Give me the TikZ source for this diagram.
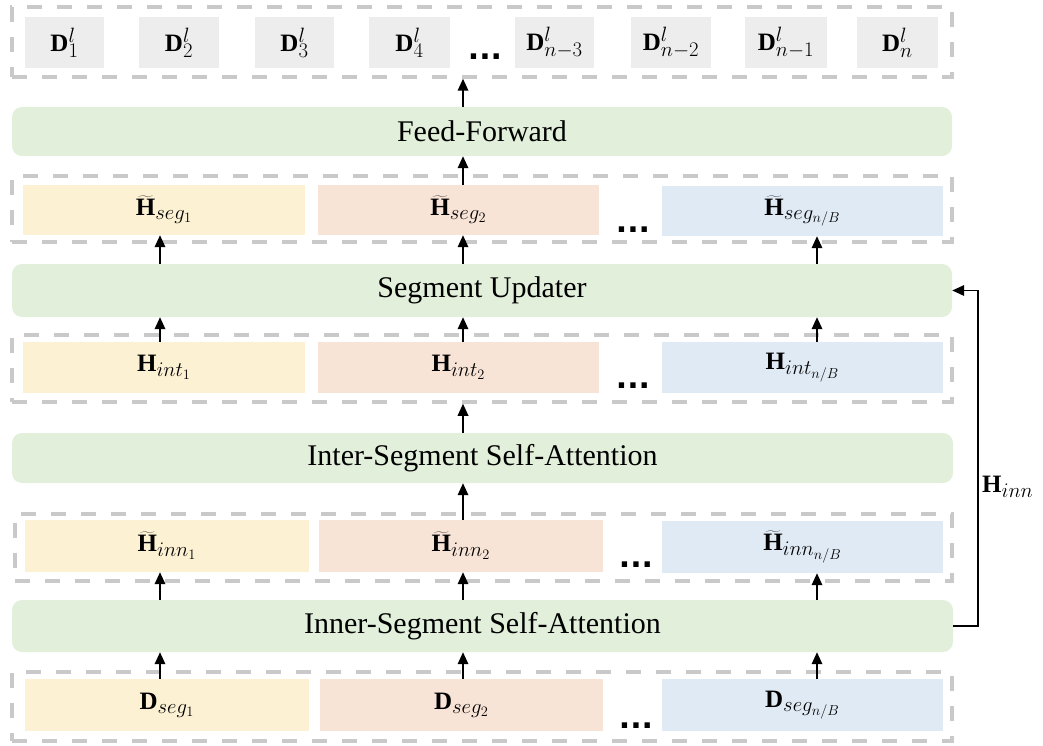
\documentclass[tikz,border=0pt]{standalone}
\usepackage{fontspec}
\setmainfont{Liberation Serif}
\newfontfamily\dotsfont{DejaVu Sans}
\DeclareMathSizes{25}{25}{22}{14}
\usetikzlibrary{arrows.meta}
\definecolor{laygreen}{HTML}{E2EFDA}
\definecolor{segyellow}{HTML}{FCF1D3}
\definecolor{segpink}{HTML}{F8E4D7}
\definecolor{segblue}{HTML}{E0EAF5}
\definecolor{cellgray}{HTML}{EDEDED}
\definecolor{dashgray}{HTML}{C9C9C9}
\begin{document}
\begin{tikzpicture}[x=1pt,y=-1pt,
  layer/.style={fill=laygreen, rounded corners=10pt, inner sep=0pt,
    minimum width=940pt, font=\fontsize{30}{36}\selectfont},
  group/.style={draw=dashgray, line width=3.5pt, dash pattern=on 15pt off 15pt,
    inner sep=0pt},
  cell/.style={inner sep=0pt, font=\fontsize{25}{30}\selectfont},
  cellY/.style={cell, fill=segyellow},
  cellP/.style={cell, fill=segpink},
  cellB/.style={cell, fill=segblue},
  cellG/.style={cell, fill=cellgray},
  more/.style={anchor=base, inner sep=0pt, font=\dotsfont\bfseries\fontsize{30}{36}\selectfont},
  arr/.style={-{Triangle[length=12pt,width=10.5pt]}, line width=1.8pt, black},
]
\useasboundingbox (0,0) rectangle (1043,746);

% column positions of the vertical arrows
\coordinate (colA) at (160,0);
\coordinate (colB) at (463,0);
\coordinate (colC) at (817,0);
\coordinate (fbx) at (978,0);

% dashed groups
\node[group, minimum width=940pt, minimum height=70pt] (r1) at (482,42) {};
\node[group, minimum width=940pt, minimum height=66pt] (r2) at (482,209) {};
\node[group, minimum width=940pt, minimum height=67pt] (r3) at (482,368.5) {};
\node[group, minimum width=937pt, minimum height=67pt] (r4) at (483.5,547.5) {};
\node[group, minimum width=940pt, minimum height=69pt] (r5) at (482,706.5) {};

% output tokens
\node[cellG, minimum width=79pt, minimum height=51pt] (o1) at (64.5,42.5) {$\mathbf{D}_{1}^{l}$};
\node[cellG, minimum width=80pt, minimum height=51pt] (o2) at (179,42.5) {$\mathbf{D}_{2}^{l}$};
\node[cellG, minimum width=79pt, minimum height=51pt] (o3) at (294.5,42.5) {$\mathbf{D}_{3}^{l}$};
\node[cellG, minimum width=81pt, minimum height=51pt] (o4) at (409.5,42.5) {$\mathbf{D}_{4}^{l}$};
\node[more] (m1) at (485,60) {...};
\node[cellG, minimum width=79pt, minimum height=51pt] (o5) at (554.5,42.5) {$\mathbf{D}_{n-3}^{l}$};
\node[cellG, minimum width=80pt, minimum height=51pt] (o6) at (671,42.5) {$\mathbf{D}_{n-2}^{l}$};
\node[cellG, minimum width=82pt, minimum height=51pt] (o7) at (786,42.5) {$\mathbf{D}_{n-1}^{l}$};
\node[cellG, minimum width=81pt, minimum height=51pt] (o8) at (897.5,42.5) {$\mathbf{D}_{n}^{l}$};

% layers
\node[layer, minimum height=49pt] (ff) at (482,131.5) {Feed-Forward};
\node[layer, minimum height=53pt] (su) at (482,290.5) {Segment Updater};
\node[layer, minimum height=50pt, minimum width=941pt] (inter) at (482.5,458) {Inter-Segment Self-Attention};
\node[layer, minimum height=52pt, minimum width=941pt] (inner) at (482.5,626) {Inner-Segment Self-Attention};

% updated segments
\node[cellY, minimum width=282pt, minimum height=50pt] (hs1) at (164,210) {$\widetilde{\mathbf{H}}_{seg_1}$};
\node[cellP, minimum width=281pt, minimum height=50pt] (hs2) at (458.5,210) {$\widetilde{\mathbf{H}}_{seg_2}$};
\node[more] (m2) at (633,232) {...};
\node[cellB, minimum width=281pt, minimum height=50pt] (hs3) at (802.5,211) {$\widetilde{\mathbf{H}}_{seg_{n/B}}$};

% inter-segment outputs
\node[cellY, minimum width=282pt, minimum height=51pt] (hi1) at (164,367.5) {$\mathbf{H}_{int_1}$};
\node[cellP, minimum width=281pt, minimum height=51pt] (hi2) at (458.5,367.5) {$\mathbf{H}_{int_2}$};
\node[more] (m3) at (633,388) {...};
\node[cellB, minimum width=281pt, minimum height=51pt] (hi3) at (802.5,367.5) {$\mathbf{H}_{int_{n/B}}$};

% inner-segment outputs
\node[cellY, minimum width=284pt, minimum height=52pt] (hn1) at (167,546) {$\widetilde{\mathbf{H}}_{inn_1}$};
\node[cellP, minimum width=284pt, minimum height=52pt] (hn2) at (461,546) {$\widetilde{\mathbf{H}}_{inn_2}$};
\node[more] (m4) at (636,567) {...};
\node[cellB, minimum width=281pt, minimum height=52pt] (hn3) at (802.5,547) {$\widetilde{\mathbf{H}}_{inn_{n/B}}$};

% input segments
\node[cellY, minimum width=284pt, minimum height=52pt] (d1) at (167,705) {$\mathbf{D}_{seg_1}$};
\node[cellP, minimum width=283pt, minimum height=52pt] (d2) at (461.5,705) {$\mathbf{D}_{seg_2}$};
\node[more] (m5) at (636,728) {...};
\node[cellB, minimum width=281pt, minimum height=52pt] (d3) at (802.5,705) {$\mathbf{D}_{seg_{n/B}}$};

% data flow
\draw[arr] (ff.north -| colB) -- (r1.south -| colB);
\draw[arr] (hs2.north -| colB) -- (ff.south -| colB);
\foreach \c/\s in {colA/hs1, colB/hs2, colC/hs3}
  \draw[arr] (su.north -| \c) -- (\s.south -| \c);
\foreach \c/\s in {colA/hi1, colB/hi2, colC/hi3}
  \draw[arr] (\s.north -| \c) -- (su.south -| \c);
\draw[arr] (inter.north -| colB) -- (r3.south -| colB);
\draw[arr] (hn2.north -| colB) -- (inter.south -| colB);
\foreach \c/\s in {colA/hn1, colB/hn2, colC/hn3}
  \draw[arr] (inner.north -| \c) -- (\s.south -| \c);
\foreach \c/\s in {colA/d1, colB/d2, colC/d3}
  \draw[arr] (\s.north -| \c) -- (inner.south -| \c);

% residual path of the inner-segment states
\draw[arr] (inner.east) -- (inner.east -| fbx) |- (su.east);
\node[cell, anchor=west] (hinn) at (982,487) {$\mathbf{H}_{inn}$};
\end{tikzpicture}
\end{document}
